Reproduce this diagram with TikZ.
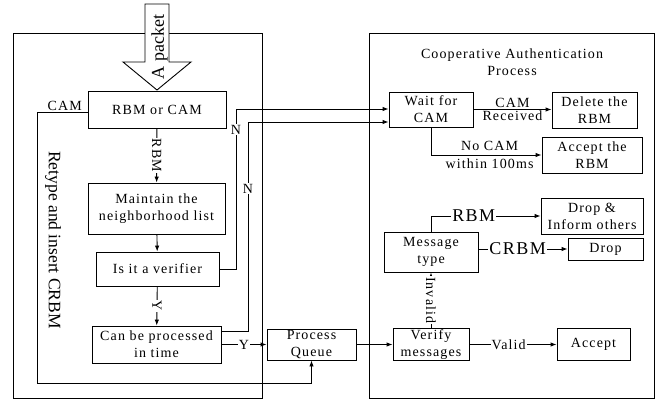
\documentclass[tikz,border=0pt]{standalone}
\usepackage{fontspec}
\setmainfont{Liberation Serif}
\newfontfamily\lsfont[LetterSpace=8]{Liberation Serif}
\usetikzlibrary{arrows.meta}
\begin{document}
\begin{tikzpicture}[x=1pt,y=-1pt,
  box/.style={draw,line width=0.9pt,inner sep=0pt,align=center,font=\lsfont\fontsize{14}{17}\selectfont},
  frame/.style={draw,line width=0.9pt,inner sep=0pt},
  txt/.style={inner sep=1pt,align=center,font=\lsfont\fontsize{14}{17}\selectfont},
  lbl/.style={txt,fill=white},
  bigl/.style={fill=white,inner sep=1pt,font=\lsfont\fontsize{18}{20}\selectfont},
  bigt/.style={inner sep=0pt,font=\fontsize{17.5}{20}\selectfont},
  conn/.style={line width=0.9pt},
  arr/.style={conn,-{Latex[length=6pt,width=4.5pt]}}]
\useasboundingbox (0,0) rectangle (659,402);

% frames
\node[frame,minimum width=249pt,minimum height=365pt] (leftbox) at (137.5,215.5) {};
\node[frame,minimum width=285pt,minimum height=365pt] (rightbox) at (511.5,215.5) {};

% packet arrow
\draw[conn,fill=white] (145,4) -- (169,4) -- (169,62) -- (191,62) -- (157,90) -- (123,62) -- (145,62) -- cycle;
\node[bigt,rotate=90,font=\fontsize{18}{20}\selectfont] (packet) at (159.5,47) {A packet};

% left nodes
\node[box,minimum width=138pt,minimum height=37pt] (rbmcam) at (157,109.5) {RBM or CAM};
\node[box,minimum width=137pt,minimum height=51pt] (maintain) at (156.5,208.5) {Maintain the\\neighborhood list};
\node[box,minimum width=123pt,minimum height=34pt] (verifier) at (157.5,269) {Is it a verifier};
\node[box,minimum width=129pt,minimum height=37pt] (canproc) at (156.5,344.5) {Can be processed\\in time};
\node[box,minimum width=89pt,minimum height=31pt] (queue) at (311.5,344.5) {Process\\Queue};
\node[bigt,rotate=-90] (retype) at (53,240) {Retype and insert CRBM};

% right nodes
\node[txt] (title) at (512,62) {Cooperative Authentication\\Process};
\node[box,minimum width=84pt,minimum height=35pt] (wait) at (431,109.5) {Wait for\\CAM};
\node[box,minimum width=85pt,minimum height=36pt] (delete) at (594.5,110) {Delete the\\RBM};
\node[box,minimum width=100pt,minimum height=36pt] (acceptrbm) at (592,155) {Accept the\\RBM};
\node[box,minimum width=94pt,minimum height=40pt] (msgtype) at (431,252) {Message\\type};
\node[box,minimum width=102pt,minimum height=36pt] (dropinform) at (592,216) {Drop \&\\Inform others};
\node[box,minimum width=75pt,minimum height=22pt] (drop) at (605.5,249) {Drop};
\node[box,minimum width=76pt,minimum height=32pt] (verify) at (431,344.5) {Verify\\messages};
\node[box,minimum width=73pt,minimum height=32pt] (accept) at (593.5,344.5) {Accept};

% coordinates
\coordinate (n1) at (236,109);
\coordinate (n2) at (248,122);
\coordinate (c1) at (37,112);
\coordinate (c2) at (37,383);
\coordinate (nc) at (431,155);
\coordinate (r1) at (431,216);

% left connectors
\draw[arr] (rbmcam) -- node[lbl,rotate=-90]{RBM} (maintain);
\draw[arr] (maintain) -- (verifier);
\draw[arr] (verifier) -- node[lbl,rotate=-90]{Y} (canproc);
\draw[arr] (canproc.east) -- node[lbl]{Y} (queue.west);
\draw[arr] (verifier.east) -- (verifier.east -| n1) -- node[lbl,pos=0.87]{N} (n1) -- (n1 -| wait.west);
\draw[arr] ([yshift=13.5pt]canproc.east) -- ([yshift=13.5pt]canproc.east -| n2) -- node[lbl,pos=0.68]{N} (n2) -- (n2 -| wait.west);
\draw[arr] ([yshift=-2.5pt]rbmcam.west) -- node[txt,above,pos=0.45]{CAM} (c1) -- (c2) -| (queue.south);

% right connectors
\draw[arr] (wait.east) -- node[txt,above]{CAM} node[txt,below]{Received} (wait.east -| delete.west);
\draw[conn] (wait.south) -- (nc);
\draw[arr] (nc) -- node[txt,above,pos=0.53,inner sep=4pt]{No CAM} node[txt,below,pos=0.53,inner sep=3pt]{within 100ms} (nc -| acceptrbm.west);
\draw[arr] (queue.east) -- (verify.west);
\draw[arr] (verify.north) -- node[lbl,rotate=-90]{Invalid} (msgtype.south);
\draw[arr] (verify.east) -- node[lbl,pos=0.45]{Valid} (accept.west);
\draw[conn] (msgtype.north) -- (r1);
\draw[arr] (r1) -- node[bigl,pos=0.39]{RBM} (r1 -| dropinform.west);
\draw[arr] (msgtype.east |- drop.west) -- node[bigl,pos=0.44]{CRBM} (drop.west);
\end{tikzpicture}
\end{document}
